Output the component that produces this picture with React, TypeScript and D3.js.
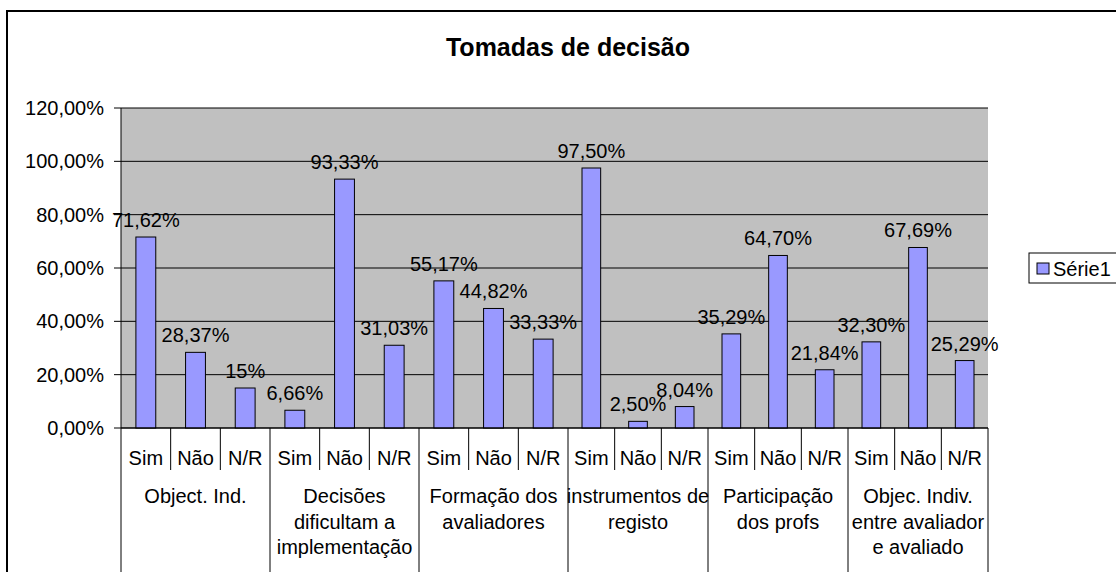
import React from 'react';
import * as d3 from 'd3';

// data
const groups = [
  ['Object.  Ind.'],
  ['Decisões', 'dificultam a', 'implementação'],
  ['Formação dos', 'avaliadores'],
  ['instrumentos de', 'registo'],
  ['Participação', 'dos profs'],
  ['Objec. Indiv.', 'entre avaliador', 'e avaliado'],
];
const answers = ['Sim', 'Não', 'N/R'];
const values = [
  [71.62, 28.37, 15],
  [6.66, 93.33, 31.03],
  [55.17, 44.82, 33.33],
  [97.5, 2.5, 8.04],
  [35.29, 64.7, 21.84],
  [32.3, 67.69, 25.29],
];
const valueLabels = [
  ['71,62%', '28,37%', '15%'],
  ['6,66%', '93,33%', '31,03%'],
  ['55,17%', '44,82%', '33,33%'],
  ['97,50%', '2,50%', '8,04%'],
  ['35,29%', '64,70%', '21,84%'],
  ['32,30%', '67,69%', '25,29%'],
];
const yTicks = [0, 20, 40, 60, 80, 100, 120];
const title = 'Tomadas de decisão';
const seriesName = 'Série1';

const FONT = '"Liberation Sans", Arial, sans-serif';

export default function App() {
  const top = 108;
  const bottom = 428;
  const left = 121;
  const right = 988;

  // group edges (the source picture is slightly uneven horizontally)
  const groupX = d3.scaleLinear().domain([0, 3, 6]).range([left, 568, right]);
  const y = d3.scaleLinear().domain([0, 120]).range([bottom, top]);
  const pt = d3.formatLocale({ decimal: ',', thousands: '.', grouping: [3], currency: ['', '€'] });
  const fmt = (v: number) => pt.format('.2f')(v) + '%';

  return (
    <svg
      width={1116}
      height={572}
      style={{ position: 'absolute', left: 0, top: 0, background: '#fff' }}
      fontFamily={FONT}
    >
      <rect x={7} y={11} width={1200} height={700} fill="#fff" stroke="#000" strokeWidth={2} />
      <text x={568} y={56} textAnchor="middle" fontSize={25} fontWeight="bold">
        {title}
      </text>

      {/* plot area */}
      <rect x={left} y={top} width={right - left} height={bottom - top} fill="#C0C0C0" />
      {yTicks.map((t) => (
        <g key={t}>
          <line x1={left - 7} x2={right} y1={y(t)} y2={y(t)} stroke="#000" strokeWidth={1} />
          <text x={104} y={y(t) + 7} textAnchor="end" fontSize={20}>
            {fmt(t)}
          </text>
        </g>
      ))}
      <line x1={left} x2={left} y1={top} y2={bottom} stroke="#000" />

      {groups.map((lines, gi) => {
        const x0 = groupX(gi);
        const x1 = groupX(gi + 1);
        const band = d3.scaleBand().domain(answers).range([x0, x1]).paddingInner(0.6).paddingOuter(0.3);
        const step = band.step();
        return (
          <g key={gi}>
            {answers.map((a, ai) => {
              const v = values[gi][ai];
              const bx = band(a) as number;
              const cx = bx + band.bandwidth() / 2;
              return (
                <g key={a}>
                  <rect
                    x={bx}
                    y={y(v)}
                    width={band.bandwidth()}
                    height={y(0) - y(v)}
                    fill="#9999FF"
                    stroke="#000"
                    strokeWidth={1}
                  />
                  <text x={cx} y={y(v) - 10} textAnchor="middle" fontSize={20}>
                    {valueLabels[gi][ai]}
                  </text>
                  <text x={cx} y={465} textAnchor="middle" fontSize={20}>
                    {a}
                  </text>
                  {ai > 0 && (
                    <line x1={x0 + step * ai} x2={x0 + step * ai} y1={bottom} y2={470} stroke="#000" />
                  )}
                </g>
              );
            })}
            <line x1={x0} x2={x0} y1={bottom} y2={580} stroke="#000" />
            {gi === groups.length - 1 && <line x1={x1} x2={x1} y1={bottom} y2={580} stroke="#000" />}
            {lines.map((l, li) => (
              <text key={li} x={(x0 + x1) / 2} y={503 + li * 25.5} textAnchor="middle" fontSize={20}>
                {l}
              </text>
            ))}
          </g>
        );
      })}
      <line x1={left} x2={right} y1={bottom} y2={bottom} stroke="#000" />

      {/* legend */}
      <rect x={1029} y={253} width={100} height={30} fill="#fff" stroke="#000" />
      <rect x={1037} y={263} width={12} height={11} fill="#9999FF" stroke="#000" />
      <text x={1053} y={276} fontSize={20}>
        {seriesName}
      </text>
    </svg>
  );
}
